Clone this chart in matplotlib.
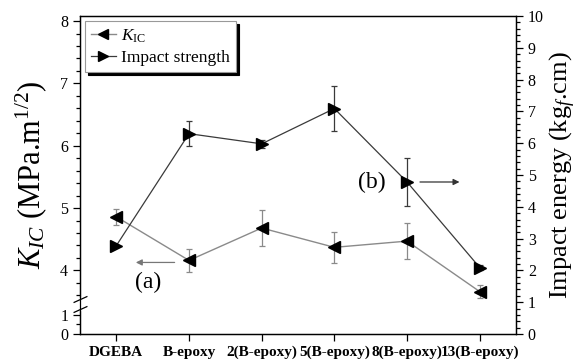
import numpy as np
import matplotlib
matplotlib.use('Agg')
from matplotlib import pyplot as plt
from matplotlib import transforms
from matplotlib.lines import Line2D

plt.rcParams['font.family'] = ['Liberation Serif', 'DejaVu Serif']
plt.rcParams['mathtext.fontset'] = 'custom'
plt.rcParams['mathtext.rm'] = 'Liberation Serif'
plt.rcParams['mathtext.it'] = 'Liberation Serif:italic'

samples = ['DGEBA', 'B-epoxy', '2(B-epoxy)', '5(B-epoxy)', '8(B-epoxy)', '13(B-epoxy)']
kic = [4.86, 4.16, 4.68, 4.37, 4.47, 3.66]
kic_err = [0.13, 0.18, 0.29, 0.25, 0.29, 0.10]
impact = [2.78, 6.30, 5.98, 7.09, 4.78, 2.09]
impact_err = [0.0, 0.40, 0.12, 0.70, 0.75, 0.08]

# broken left axis: piecewise linear scale (0..1.3 low part, 3.55..8 upper part)
kb = [0.0, 1.3, 3.55, 9.0]
rb = [0.0, 0.78, 2 + 1.96 * (3.55 - 4), 2 + 1.96 * 5]

def fwd(v):
    return np.interp(v, kb, rb)

def inv(r):
    return np.interp(r, rb, kb)

fig = plt.figure(figsize=(5.81, 3.63), dpi=100)
ax = fig.add_axes([0.1377, 0.0799, 0.7505, 0.876])
ax.set_yscale('function', functions=(fwd, inv))
ax.set_ylim(0, 4 + 8 / 1.96)
ax2 = ax.twinx()
ax2.set_ylim(0, 10)

x = np.arange(len(samples))
ax.set_xlim(-0.5, len(samples) - 0.5)

kic_col = '#8a8a8a'
imp_col = '#3a3a3a'
ax.errorbar(x, kic, yerr=kic_err, color=kic_col, lw=1.0, capsize=2.5,
            elinewidth=0.9, capthick=0.9, marker='<', ms=9, mfc='black',
            mec='black', zorder=3)
ax2.errorbar(x, impact, yerr=impact_err, color=imp_col, lw=0.9, capsize=2.5,
             elinewidth=0.9, capthick=0.9, marker='>', ms=9, mfc='black',
             mec='black', zorder=3)

# ticks
ax.set_yticks([0, 1, 4, 5, 6, 7, 8])
ax.set_yticks([0.5] + list(np.arange(3.6, 8.0, 0.2)), minor=True)
ax2.set_yticks(range(0, 11))
ax2.set_yticks(np.arange(0, 10.01, 0.2), minor=True)
ax.set_xticks(x)
ax.set_xticklabels(samples, fontweight='bold', fontsize=11)
for a in (ax, ax2):
    a.tick_params(which='both', direction='out', labelsize=11.5, width=0.9)
    a.tick_params(which='major', length=5)
    a.tick_params(which='minor', length=3)
ax.tick_params(axis='x', labelsize=11)
for s in list(ax.spines.values()) + list(ax2.spines.values()):
    s.set_linewidth(0.9)

ax.set_ylabel(r'$K_{IC}$ (MPa.m$^{1/2}$)', fontsize=22, labelpad=8)
ax2.set_ylabel(r'Impact energy (kg$_{f}$.cm)', fontsize=19, labelpad=3)

# axis break on left spine
trans = transforms.blended_transform_factory(ax.transAxes, ax.transData)
ax.plot([0, 0], [1.36, 3.5], transform=trans, color='white', lw=2.5,
        clip_on=False, zorder=5)
ax.plot([0, 0], [1.32, 3.53], transform=trans, ls='none', ms=10, mew=0.9,
        marker=[(-1, -0.45), (1, 0.45)], color='black', clip_on=False, zorder=6)

# annotations
ax2.text(0.44, 1.62, '(a)', fontsize=17, ha='center', va='center')
ax2.annotate('', xy=(0.23, 2.25), xytext=(0.84, 2.25),
             arrowprops=dict(arrowstyle='-|>', color='#777777', lw=0.9,
                             mutation_scale=9))
ax2.text(3.51, 4.75, '(b)', fontsize=17, ha='center', va='center')
ax2.annotate('', xy=(4.76, 4.78), xytext=(4.14, 4.78),
             arrowprops=dict(arrowstyle='-|>', color='#333333', lw=0.9,
                             mutation_scale=9))

handles = [Line2D([], [], color=kic_col, lw=1.0, marker='<', ms=7,
                  mfc='black', mec='black'),
           Line2D([], [], color=imp_col, lw=0.9, marker='>', ms=7,
                  mfc='black', mec='black')]
leg = ax2.legend(handles, [r'$K_{\mathrm{IC}}$', 'Impact strength'],
                 loc='upper left', fontsize=12.5,
                 handlelength=1.4, handletextpad=0.3, borderpad=0.35,
                 labelspacing=0.3, borderaxespad=0.3, fancybox=False,
                 framealpha=1, edgecolor='#999999',
                 shadow={'color': 'black', 'alpha': 1})
leg.get_frame().set_linewidth(0.8)

fig.savefig('out.png', dpi=100)
